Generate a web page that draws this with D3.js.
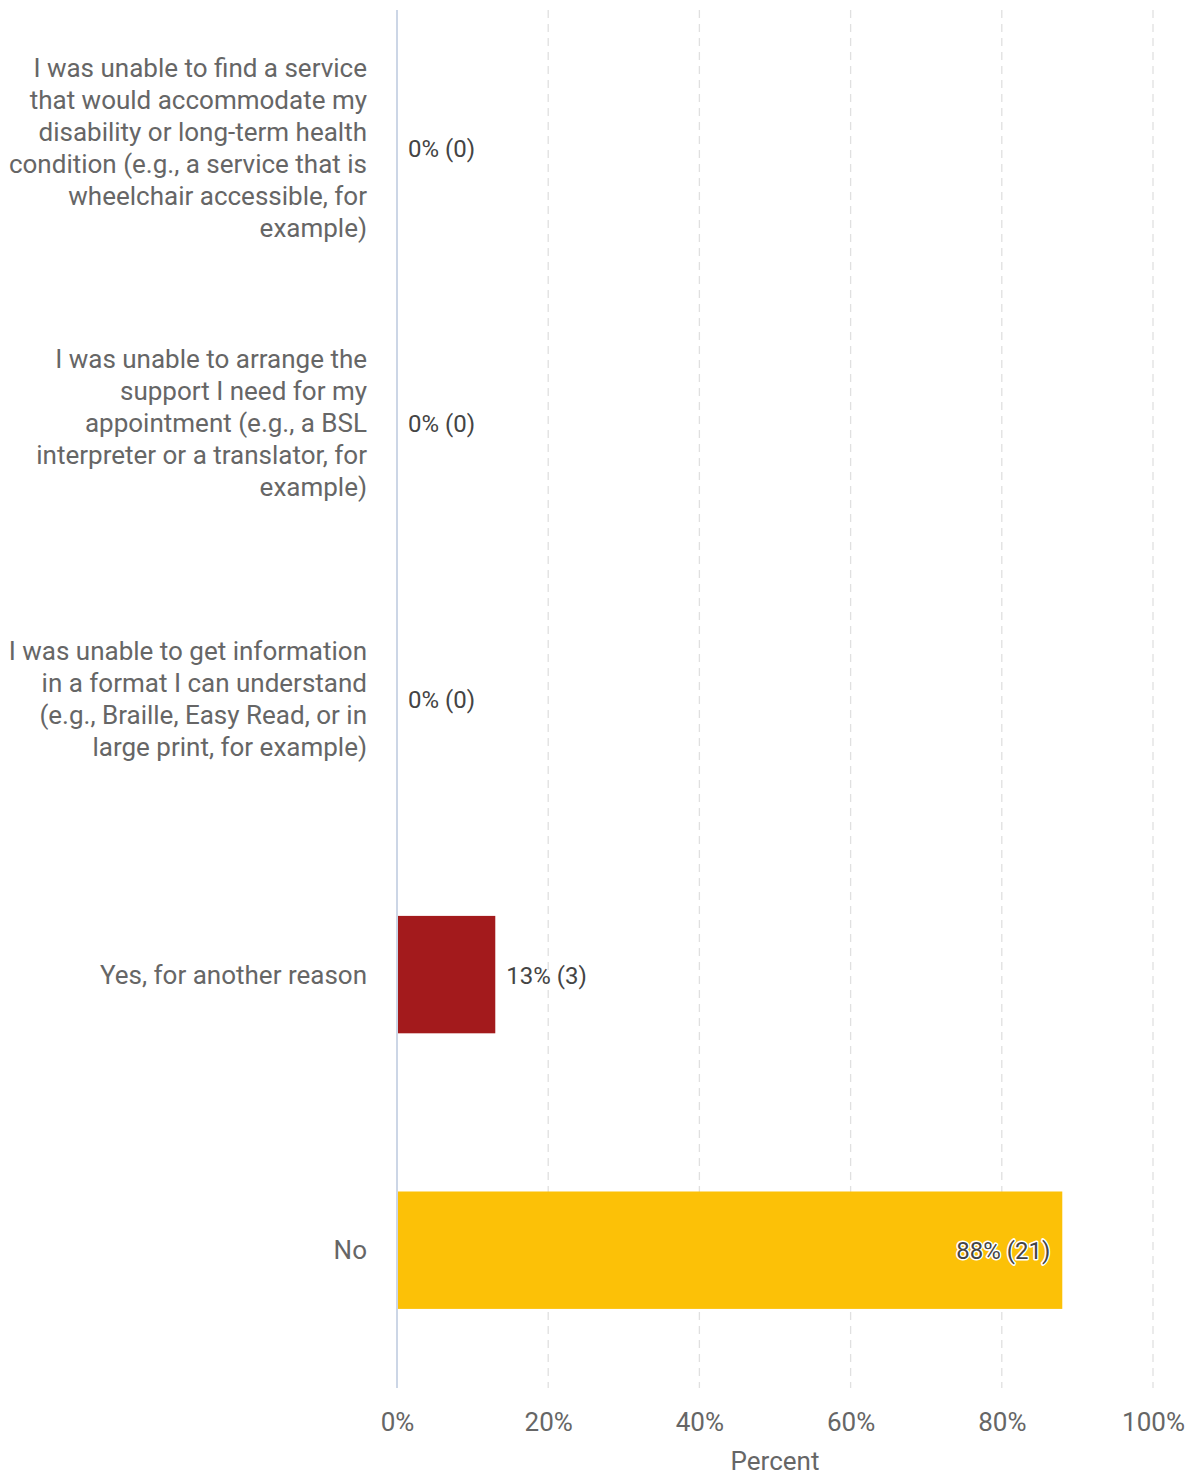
<!DOCTYPE html>
<html>
<head>
<meta charset="utf-8">
<script src="https://cdn.jsdelivr.net/npm/d3@7"></script>
<style>
  html, body { margin: 0; padding: 0; background: #fff; }
  svg { display: block; font-family: Roboto, "Noto Sans", sans-serif; }
</style>
</head>
<body>
<svg id="chart" width="1191" height="1476"></svg>
<script>
// Survey responses: share of respondents per answer
const categories = [
  "I was unable to find a service that would accommodate my disability or long-term health condition (e.g., a service that is wheelchair accessible, for example)",
  "I was unable to arrange the support I need for my appointment (e.g., a BSL interpreter or a translator, for example)",
  "I was unable to get information in a format I can understand (e.g., Braille, Easy Read, or in large print, for example)",
  "Yes, for another reason",
  "No"
];
const percents = [0, 0, 0, 13, 88];
const counts = [0, 0, 0, 3, 21];
const barColors = ["#a31a1c", "#a31a1c", "#a31a1c", "#a31a1c", "#fcc107"];
const xTicks = [0, 20, 40, 60, 80, 100];
const xTitle = "Percent";

const svg = d3.select("#chart");
const margin = { top: 10, right: 38, bottom: 88, left: 397 };
const W = 1191, H = 1476;

const x = d3.scaleLinear().domain([0, 100]).range([margin.left, W - margin.right]);
const y = d3.scaleBand().domain(d3.range(categories.length))
  .range([margin.top, H - margin.bottom]).paddingInner(0.574).paddingOuter(0.287);

// dashed gridlines
svg.append("g").selectAll("line").data(xTicks.filter(t => t > 0)).join("line")
  .attr("x1", d => x(d)).attr("x2", d => x(d))
  .attr("y1", margin.top).attr("y2", H - margin.bottom)
  .attr("stroke", "#e0e0e0").attr("stroke-width", 1.3).attr("stroke-dasharray", "8,6");

// bars
svg.append("g").selectAll("rect").data(percents).join("rect")
  .attr("x", x(0)).attr("y", (d, i) => y(i))
  .attr("width", d => x(d) - x(0)).attr("height", y.bandwidth())
  .attr("fill", (d, i) => barColors[i]);

// y axis baseline
svg.append("line")
  .attr("x1", x(0)).attr("x2", x(0))
  .attr("y1", margin.top).attr("y2", H - margin.bottom)
  .attr("stroke", "#ccd6e6").attr("stroke-width", 2);

// x axis tick labels
const xAxis = d3.axisBottom(x).tickValues(xTicks).tickFormat(d => d + "%").tickSize(0).tickPadding(0);
const gx = svg.append("g").attr("transform", `translate(0,${H - margin.bottom})`).call(xAxis);
gx.select(".domain").remove();
gx.selectAll("text").attr("font-size", 26).attr("fill", "#666").attr("font-family", "Roboto")
  .attr("dy", null).attr("y", 43);

svg.append("text").attr("x", (x(0) + x(100)) / 2).attr("y", 1470)
  .attr("text-anchor", "middle").attr("font-size", 26).attr("fill", "#666").text(xTitle);

// category labels, wrapped to fit the left margin
const labelWidth = 362, lineH = 32, labelRight = 367;
const gl = svg.append("g");
categories.forEach((c, i) => {
  const t = gl.append("text").attr("text-anchor", "end").attr("font-size", 26).attr("fill", "#666");
  const words = c.split(" ");
  const lines = [];
  let cur = [];
  const probe = t.append("tspan");
  words.forEach(w => {
    const test = cur.concat(w).join(" ");
    probe.text(test);
    if (probe.node().getComputedTextLength() > labelWidth && cur.length) {
      lines.push(cur.join(" "));
      cur = [w];
    } else cur.push(w);
  });
  lines.push(cur.join(" "));
  probe.remove();
  const cy = y(i) + y.bandwidth() / 2;
  const startY = cy - (lines.length - 1) * lineH / 2 + 9;
  lines.forEach((ln, k) => {
    t.append("tspan").attr("x", labelRight).attr("y", startY + k * lineH).text(ln);
  });
});

// value labels
percents.forEach((p, i) => {
  const label = `${p}% (${counts[i]})`;
  const cy = y(i) + y.bandwidth() / 2 + 9;
  const inside = x(p) - x(0) > 200;
  const t = svg.append("text").attr("y", cy).attr("font-size", 24).attr("fill", "#444").text(label);
  if (inside) {
    t.attr("x", x(p) - 12).attr("text-anchor", "end")
      .attr("stroke", "#fff").attr("stroke-width", 3).attr("paint-order", "stroke")
      .attr("stroke-linejoin", "round");
  } else {
    t.attr("x", x(p) + 11).attr("text-anchor", "start");
  }
});
</script>
</body>
</html>
